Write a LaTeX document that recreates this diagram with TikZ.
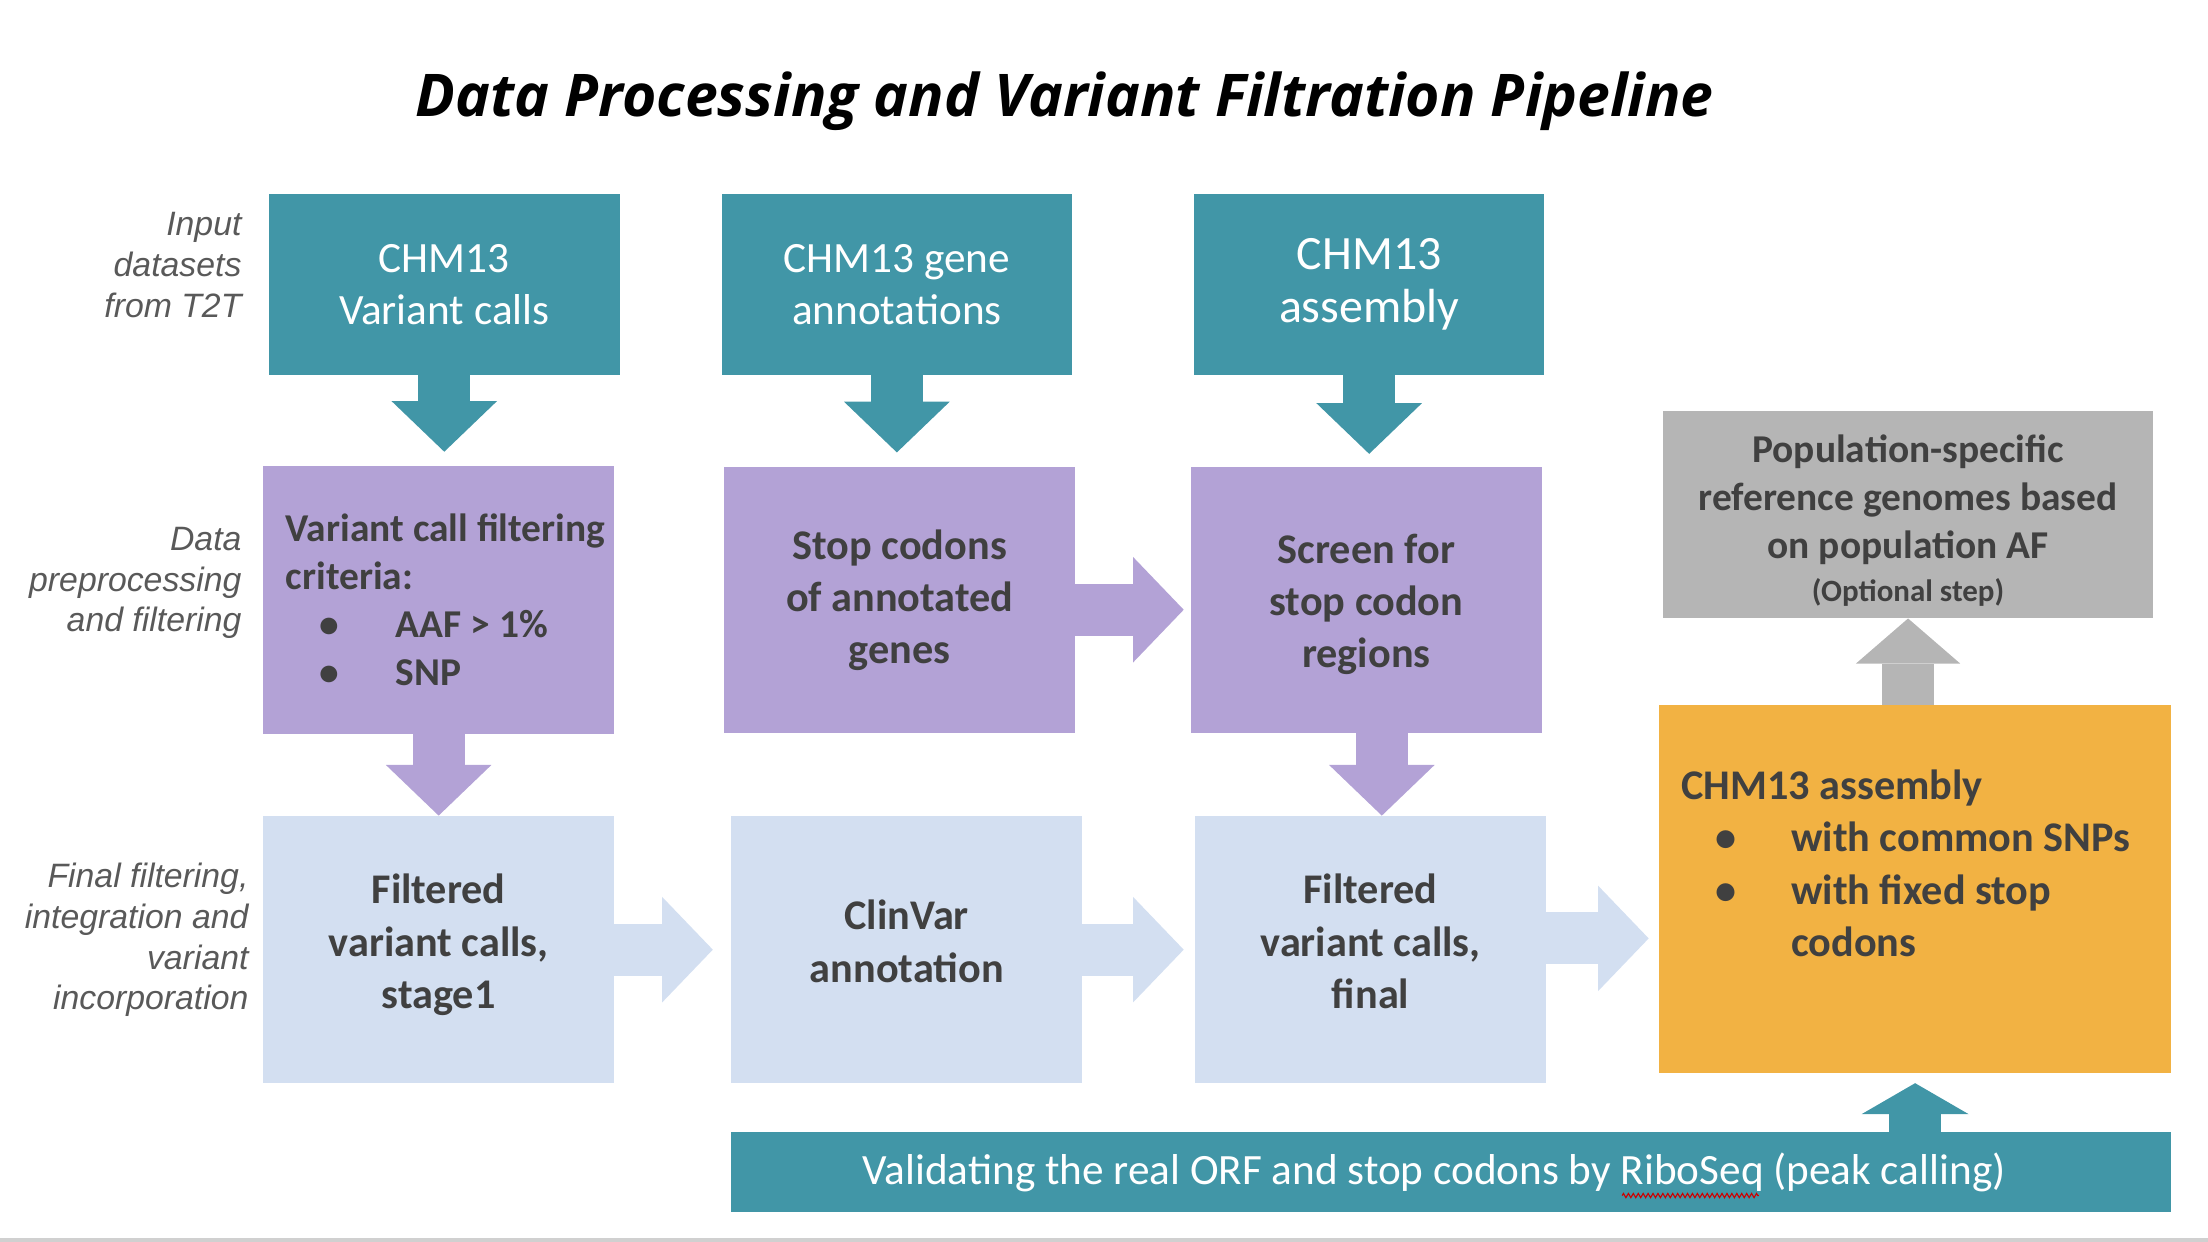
\documentclass[tikz,border=0pt]{standalone}
\usepackage{fontspec}
\setmainfont{Carlito}
\newfontfamily\sidefont{Liberation Sans}
\newfontfamily\headfont{Open Sans}
\usepackage{xcolor}
\usepackage{tikz}
\usetikzlibrary{arrows.meta, positioning, calc, decorations.pathmorphing}
\definecolor{tealbox}{HTML}{4196A7}
\definecolor{purplebox}{HTML}{B3A2D6}
\definecolor{bluebox}{HTML}{D3DFF1}
\definecolor{orangebox}{HTML}{F2B243}
\definecolor{graybox}{HTML}{B5B5B5}
\definecolor{darktext}{HTML}{404040}
\definecolor{sidegray}{HTML}{595959}
\definecolor{rulegray}{HTML}{D0D0D0}
\newcommand{\bulletline}[1]{\makebox[78pt][l]{\hspace*{24pt}\textbullet}#1}

\begin{document}
\begin{tikzpicture}[
    x=1pt, y=-1pt,
    node distance=58pt and 72pt,
    stage/.style={rectangle, fill=#1, inner sep=0pt, minimum width=249pt, align=center},
    inputbox/.style={stage=tealbox, minimum height=128pt, text=white, font=\fontsize{30.7}{37}\selectfont},
    prepbox/.style={stage=purplebox, minimum height=189pt, text=darktext, font=\bfseries\fontsize{30}{37}\selectfont},
    finalbox/.style={stage=bluebox, minimum height=190pt, text=darktext, font=\bfseries\fontsize{30}{37}\selectfont},
    sidelabel/.style={anchor=east, align=right, text=sidegray, font=\sidefont\itshape\fontsize{24}{29}\selectfont},
    blockarrow/.style={draw=#1, line width=37pt, -{Triangle[line width=0pt, length=36pt, width=75pt]}},
    uparrow/.style={draw=#1, line width=37pt, -{Triangle[line width=0pt, length=32pt, width=74pt]}},
    stubarrow/.style={draw=#1, line width=37pt, -{Triangle[line width=0pt, length=22pt, width=76pt]}},
]
\useasboundingbox (0,0) rectangle (1568,882);

% Title
\node[font=\headfont\bfseries\itshape\fontsize{41.8}{50}\selectfont] (title) at (756,72) {Data Processing and Variant Filtration Pipeline};

% Input datasets
\node[inputbox] (calls) at (315.5,202) {CHM13\\Variant calls};
\node[inputbox, right=72pt of calls] (genes) {CHM13 gene\\annotations};
\node[inputbox, right=86pt of genes, font=\fontsize{34}{38}\selectfont] (asm) {CHM13\\assembly};

% Preprocessing and filtering
\node[prepbox, align=flush left, text width=217pt, minimum height=190pt, font=\bfseries\fontsize{28}{34}\selectfont] (filt) at (311.5,426)
  {\mbox{Variant call filtering}\\criteria:\\\bulletline{AAF > 1\%}\\\bulletline{SNP}};
\node[prepbox, right=78pt of filt] (stops) {Stop codons\\of annotated\\genes};
\node[prepbox, right=82pt of stops] (screen) {\mbox{}\\[-10pt]Screen for\\stop codon\\regions};

% Final filtering
\node[finalbox, below=58pt of filt] (stage1) {Filtered\\variant calls,\\stage1\\[-25pt]\mbox{}};
\node[finalbox, right=83pt of stage1] (clinvar) {ClinVar\\annotation\\[-25pt]\mbox{}};
\node[finalbox, right=80pt of clinvar] (final) {Filtered\\variant calls,\\final\\[-25pt]\mbox{}};

% Outputs
\node[stage=orangebox, minimum width=364pt, minimum height=261pt, text=darktext, align=flush left, text width=332pt,
      font=\bfseries\fontsize{30}{37}\selectfont] (orange) at (1360,631.5)
      {CHM13 assembly\\\bulletline{with common SNPs}\\\bulletline{with fixed stop}\\\hspace*{78pt}codons\\\mbox{}};
\node[stage=graybox, minimum width=348pt, minimum height=147pt, text=darktext,
      font=\bfseries\fontsize{28}{34}\selectfont] (popref) at (1355,365.5)
      {\mbox{}\\[-6pt]Population-specific\\reference genomes based\\on population AF\\[-3pt]{\fontsize{22}{26}\selectfont (Optional step)}};
\node[stage=tealbox, minimum width=1023pt, minimum height=57pt, text=white,
      font=\fontsize{30.7}{36}\selectfont] (ribo) at (1030.5,832.5)
      {Validating the real ORF and stop codons by RiboSeq (peak calling)\hspace*{24pt}};

% Row labels
\node[sidelabel] (lblinput) at (175,188) {Input\\datasets\\from T2T};
\node[sidelabel] (lblprep) at (175,414) {Data\\preprocessing\\and filtering};
\node[sidelabel] (lblfinal) at (180,667.5) {Final filtering,\\integration and\\variant\\incorporation};

% Arrows
\draw[blockarrow=tealbox, shorten >=10pt] (calls.south) -- (calls.south |- filt.north);
\draw[blockarrow=tealbox, shorten >=10pt] (genes.south) -- (genes.south |- stops.north);
\draw[blockarrow=tealbox, shorten >=9pt] (asm.south) -- (asm.south |- screen.north);
\draw[blockarrow=purplebox] (filt.south) -- (filt.south |- stage1.north);
\draw[blockarrow=purplebox, shorten >=5pt] ([yshift=-7pt]stops.east) -- ([yshift=-7pt]stops.east -| screen.west);
\draw[blockarrow=purplebox] ([xshift=11pt]screen.south) -- ([xshift=11pt]screen.south |- final.north);
\draw[blockarrow=bluebox, shorten >=13pt] (stage1) -- (clinvar);
\draw[blockarrow=bluebox, shorten >=8pt] (clinvar) -- (final);
\draw[blockarrow=bluebox, shorten >=7pt] ([yshift=8pt]final.east) -- ([yshift=8pt]final.east -| orange.west);
\draw[uparrow=graybox] (popref.south |- orange.north) -- (popref.south);
\draw[stubarrow=tealbox, shorten >=7pt] (ribo.north -| orange.south) -- (orange.south);

% spell-check mark under RiboSeq
\draw[red!80!black, line width=0.8pt, decorate, decoration={zigzag, segment length=3.5pt, amplitude=1.5pt}]
  ($(ribo.center)+(121.5,16.5)$) -- ++(97,0);

% slide edge
\fill[rulegray] (0,879.5) rectangle (1568,882);
\end{tikzpicture}
\end{document}
